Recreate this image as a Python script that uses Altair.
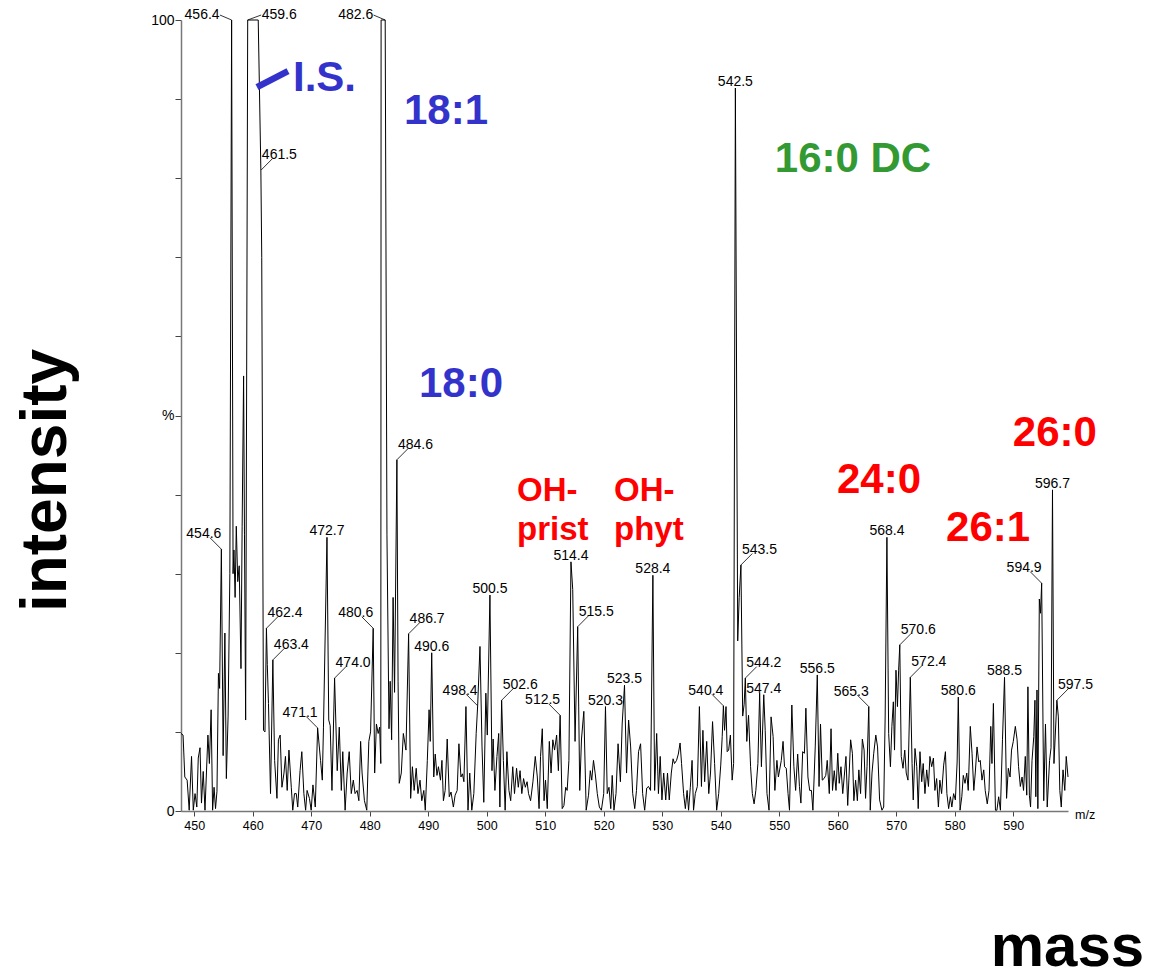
import altair as alt
import pandas as pd

# ---------------- data ----------------
spectrum_a = [
    (447.75, 9.8), (448.1, 9.6), (448.4, 4.3), (448.8, 3.9), (449.15, 0.1), (449.55, 6.9),
    (449.85, 0.1), (450.15, 2.2), (450.45, 0.5), (450.7, 6.7), (451.0, 8.0), (451.25, 1.0),
    (451.55, 5.0), (451.85, 0.1), (452.35, 9.6), (452.6, 6.0), (452.9, 12.8), (453.15, 0.1),
    (453.4, 3.0), (453.65, 0.3), (453.9, 2.5), (454.15, 17.4), (454.35, 15.5), (454.65, 33.1),
    (454.95, 7.0), (455.25, 22.5), (455.5, 4.1), (455.8, 12.0), (456.1, 30.0), (456.4, 100),
    (456.65, 30.0), (456.8, 33.0), (457.0, 27.0), (457.2, 36.0), (457.45, 29.0), (457.7, 31.0),
    (458.0, 18.0), (458.2, 36.0), (458.45, 55.0), (458.6, 35.0), (458.8, 11.5), (459.15, 100),
    (460.95, 100), (461.4, 81.0), (461.55, 70.0), (461.85, 10.2), (462.1, 10.0), (462.35, 23.1),
    (462.5, 18.5), (462.7, 13.6), (463.05, 2.2), (463.45, 19.1), (463.75, 6.4), (464.15, 1.6),
    (464.4, 9.0), (464.7, 9.6), (465.0, 3.0), (465.35, 4.8), (465.6, 6.9), (465.9, 2.6),
    (466.2, 7.7), (466.6, 3.0), (466.85, 0.1), (467.15, 2.2), (467.45, 2.2), (467.7, 0.5),
    (468.1, 5.1), (468.4, 7.5), (468.75, 2.2), (469.05, 0.1), (469.3, 2.6), (469.7, 1.6),
    (470.0, 0.1), (470.3, 3.3), (470.7, 0.5), (471.1, 10.5), (471.6, 6.4), (471.9, 3.9),
    (472.1, 10.6), (472.7, 34.6), (473.0, 11.5), (473.25, 10.8), (473.55, 2.6), (474.0, 16.8),
    (474.45, 5.1), (474.8, 10.6), (475.15, 2.6), (475.4, 7.5), (475.8, 0.1), (476.15, 4.8),
    (476.5, 7.5), (476.85, 2.2), (477.2, 3.9), (477.5, 2.2), (477.85, 2.6), (478.15, 1.3),
    (478.45, 8.8), (478.7, 4.8), (479.1, 1.3), (479.5, 0.1), (479.85, 8.8), (480.15, 10.0),
    (480.6, 23.1), (480.85, 4.8), (481.15, 11.0), (481.45, 9.8), (481.7, 10.6), (481.9, 6.0),
    (481.95, 100), (482.65, 100), (482.95, 35.0), (483.3, 10.4), (483.5, 16.4), (483.75, 9.0),
    (484.0, 27.0), (484.25, 15.0), (484.65, 44.4), (484.85, 16.4), (485.05, 3.5), (485.4, 4.8),
    (485.75, 9.8), (486.2, 7.7), (486.65, 22.4), (487.0, 1.6), (487.3, 5.6), (487.6, 2.6),
    (487.95, 5.4), (488.25, 2.2), (488.6, 3.9), (488.9, 1.3), (489.25, 2.6), (489.5, 0.1),
    (489.85, 6.4), (490.15, 12.8), (490.35, 8.8), (490.6, 20.0), (490.95, 4.3), (491.2, 7.2),
    (491.5, 4.5), (491.75, 5.6), (492.1, 3.9), (492.35, 6.4), (492.6, 1.3), (492.9, 2.6),
    (493.25, 9.1), (493.6, 1.8), (493.9, 2.4), (494.3, 0.5), (494.6, 2.0), (494.95, 2.6),
    (495.25, 8.5), (495.6, 4.3), (495.85, 4.7), (496.1, 3.7), (496.45, 13.2), (496.8, 0.1),
    (497.1, 4.8), (497.45, 0.1), (497.8, 2.2), (498.2, 9.8), (498.45, 13.3), (498.85, 20.8),
    (499.2, 8.1), (499.5, 1.1), (499.85, 14.9), (500.1, 9.6),
]

spectrum_b = [
    (500.55, 27.3), (500.9, 5.1), (501.1, 9.1), (501.4, 2.6), (501.75, 6.9), (502.05, 9.8),
    (502.25, 0.5), (502.55, 14.0), (502.85, 6.4), (503.15, 0.1), (503.45, 7.5), (503.8, 2.6),
    (504.1, 1.3), (504.45, 5.6), (504.75, 2.2), (505.1, 5.4), (505.4, 3.0), (505.7, 5.1),
    (506.0, 2.2), (506.3, 4.1), (506.6, 3.0), (506.9, 3.7), (507.15, 2.2), (507.5, 1.3),
    (507.9, 3.7), (508.3, 6.9), (508.65, 4.3), (508.95, 0.3), (509.2, 6.9), (509.5, 10.4),
    (509.8, 1.3), (510.05, 3.9), (510.35, 0.3), (510.7, 8.8), (511.0, 4.8), (511.3, 9.0),
    (511.6, 7.7), (511.95, 9.6), (512.25, 5.1), (512.55, 12.1), (512.9, 0.3), (513.2, 0.7),
    (513.5, 3.0), (513.75, 2.6), (514.05, 6.4), (514.4, 31.5), (514.7, 28.0), (515.1, 8.8),
    (515.55, 23.3), (515.9, 2.6), (516.2, 9.1), (516.6, 12.6), (517.0, 0.1), (517.4, 2.0),
    (517.7, 5.1), (517.95, 3.9), (518.25, 6.4), (518.55, 4.7), (518.9, 2.2), (519.25, 0.5),
    (519.6, 0.1), (520.0, 2.2), (520.3, 13.2), (520.6, 2.2), (520.9, 3.0), (521.2, 0.3),
    (521.45, 4.5), (521.75, 0.1), (522.1, 2.2), (522.45, 8.5), (522.85, 3.7), (523.15, 11.0),
    (523.55, 15.9), (523.9, 4.8), (524.25, 11.5), (524.6, 8.1), (524.95, 2.2), (525.3, 0.3),
    (525.6, 2.6), (525.95, 7.5), (526.3, 8.5), (526.65, 2.2), (527.0, 0.1), (527.35, 2.9),
    (527.65, 3.1), (528.0, 2.6), (528.4, 29.8), (528.7, 2.6), (529.05, 9.8), (529.35, 2.2),
    (529.65, 6.9), (529.95, 1.4), (530.25, 4.8), (530.6, 1.4), (530.9, 4.8), (531.2, 1.4),
    (531.55, 4.8), (531.85, 6.6), (532.1, 6.0), (532.45, 6.4), (532.75, 7.2), (533.05, 8.6),
    (533.3, 6.0), (533.65, 2.2), (533.95, 0.3), (534.25, 2.6), (534.5, 0.1), (534.8, 3.0),
    (535.1, 6.4), (535.35, 0.1), (535.65, 2.2), (536.0, 3.1), (536.35, 13.2), (536.7, 3.1),
    (536.95, 10.2), (537.25, 3.7), (537.6, 8.8), (537.95, 2.2), (538.25, 4.8), (538.6, 11.3),
    (538.95, 6.0), (539.3, 0.1), (539.65, 2.2), (540.0, 5.8), (540.25, 9.4), (540.45, 13.3),
    (540.65, 10.2), (540.9, 13.2), (541.1, 7.5), (541.35, 7.7), (541.65, 9.6), (541.95, 3.9),
    (542.2, 6.0), (542.5, 91.4), (542.9, 21.5), (543.15, 27.0), (543.45, 31.1), (543.75, 12.0),
    (544.0, 13.5), (544.2, 16.8), (544.45, 8.8), (544.75, 12.1), (545.1, 5.6), (545.4, 2.2),
    (545.7, 0.9), (546.0, 2.6), (546.35, 6.0), (546.65, 14.9), (546.95, 5.6), (547.35, 14.7),
    (547.6, 10.2), (547.9, 2.2), (548.25, 0.1), (548.6, 11.9), (548.95, 9.4), (549.25, 2.6),
    (549.6, 6.4), (549.85, 4.3),
]

spectrum_c = [
    (550.35, 6.4), (550.65, 8.8), (550.9, 5.6), (551.2, 5.4), (551.5, 2.2), (551.75, 0.1),
    (552.15, 13.4), (552.5, 5.6), (552.8, 2.6), (553.15, 7.2), (553.45, 3.1), (553.7, 1.0),
    (554.0, 7.5), (554.3, 7.3), (554.55, 13.0), (554.9, 4.3), (555.2, 2.6), (555.5, 2.6),
    (555.75, 0.1), (556.15, 8.1), (556.5, 17.2), (556.8, 3.1), (557.05, 11.0), (557.35, 3.9),
    (557.65, 4.1), (557.95, 4.5), (558.2, 6.4), (558.55, 2.2), (558.85, 10.4), (559.1, 2.6),
    (559.4, 5.1), (559.7, 2.6), (560.0, 7.3), (560.25, 3.5), (560.55, 5.6), (560.85, 2.2),
    (561.1, 4.3), (561.4, 6.9), (561.7, 0.7), (561.95, 4.8), (562.2, 9.0), (562.5, 7.3),
    (562.75, 1.3), (563.05, 3.9), (563.35, 1.3), (563.6, 5.2), (563.9, 2.2), (564.2, 9.1),
    (564.5, 7.7), (564.75, 1.6), (565.0, 5.6), (565.3, 13.2), (565.55, 0.1), (565.85, 4.8),
    (566.15, 7.3), (566.5, 9.6), (566.8, 8.1), (567.15, 1.4), (567.55, 0.1), (567.85, 0.5),
    (568.1, 12.0), (568.4, 34.6), (568.7, 9.8), (569.0, 5.6), (569.25, 10.7), (569.5, 13.8),
    (569.7, 7.7), (569.95, 17.8), (570.2, 13.2), (570.4, 17.8), (570.6, 21.0), (570.85, 6.9),
    (571.15, 5.4), (571.45, 7.7), (571.7, 4.8), (572.0, 3.9), (572.4, 16.9), (572.7, 6.0),
    (572.9, 1.4), (573.2, 7.9), (573.5, 5.6), (573.75, 0.3), (574.05, 7.5), (574.35, 3.7),
    (574.6, 6.0), (574.9, 2.2), (575.2, 5.2), (575.5, 3.1), (575.75, 6.9), (576.05, 5.6),
    (576.35, 6.7), (576.6, 2.6), (576.9, 4.1), (577.2, 0.5), (577.45, 3.9), (577.75, 2.2),
    (578.1, 5.8), (578.4, 7.5), (578.65, 2.2), (578.95, 0.3), (579.25, 1.8), (579.5, 0.5),
    (579.8, 2.2), (580.1, 1.4), (580.4, 6.2), (580.6, 14.4), (580.9, 0.1), (581.2, 1.8),
    (581.45, 4.5), (581.75, 3.5), (582.05, 4.8), (582.3, 2.6), (582.65, 10.7), (582.95, 7.3),
    (583.25, 2.6), (583.5, 4.8), (583.8, 8.1), (584.1, 6.2), (584.35, 6.4), (584.65, 3.9),
    (584.95, 5.2), (585.2, 2.6), (585.55, 0.9), (585.85, 2.6), (586.15, 10.7), (586.35, 6.0),
    (586.6, 13.6), (586.95, 0.1), (587.2, 0.1), (587.5, 1.8), (587.8, 0.1), (588.15, 9.0),
    (588.5, 16.9), (588.85, 1.6), (589.15, 5.4), (589.45, 4.3), (589.7, 7.7), (590.0, 8.8),
    (590.35, 10.7), (590.65, 9.0), (590.9, 5.6), (591.2, 3.1), (591.5, 4.3), (591.75, 2.6),
    (592.05, 6.9), (592.3, 2.0), (592.5, 15.7), (592.75, 2.0), (592.95, 0.5), (593.2, 6.4),
    (593.5, 9.4), (593.7, 14.0), (593.85, 1.8), (594.05, 15.3), (594.2, 0.3), (594.45, 26.8),
    (594.65, 25.0), (594.85, 28.8), (595.2, 1.3), (595.5, 11.0), (595.8, 0.5), (596.2, 6.4),
    (596.45, 8.0), (596.7, 40.6), (596.95, 6.0), (597.45, 14.0), (597.7, 11.9), (597.95, 2.6),
    (598.2, 0.5), (598.5, 5.2), (598.8, 2.6), (599.05, 6.9), (599.35, 4.3),
]

# labelled peaks: text, apex m/z, apex intensity, where the label sits
label_text = ["454.6", "456.4", "459.6", "461.5", "462.4", "463.4", "471.1", "472.7", "474.0",
              "480.6", "482.6", "484.6", "486.7", "490.6", "498.4", "500.5", "502.6", "512.5",
              "514.4", "515.5", "520.3", "523.5", "528.4", "540.4", "542.5", "543.5", "544.2",
              "547.4", "556.5", "565.3", "568.4", "570.6", "572.4", "580.6", "588.5", "594.9",
              "596.7", "597.5"]
label_mz = [454.65, 456.4, 459.15, 461.4, 462.35, 463.45, 471.1, 472.7, 474.0,
            480.6, 482.65, 484.65, 486.65, 490.6, 498.45, 500.55, 502.55, 512.55,
            514.4, 515.55, 520.3, 523.55, 528.4, 540.45, 542.5, 543.45, 544.2,
            547.35, 556.5, 565.3, 568.4, 570.6, 572.4, 580.6, 588.5, 594.85,
            596.7, 597.45]
label_int = [33.1, 100, 100, 81.0, 23.1, 19.1, 10.5, 34.6, 16.8,
             23.1, 100, 44.4, 22.4, 20.0, 13.3, 27.3, 14.0, 12.1,
             31.5, 23.3, 13.2, 15.9, 29.8, 13.3, 91.4, 31.1, 16.8,
             14.7, 17.2, 13.2, 34.6, 21.0, 16.9, 14.4, 16.9, 28.8,
             40.6, 14.0]
label_side = ["L", "LT", "RT", "R", "R", "R", "L", "C", "R",
              "L", "LT", "R", "R", "C", "L", "C", "R", "L",
              "C", "R", "C", "C", "C", "L", "C", "R", "R",
              "C", "C", "L", "C", "R", "R", "C", "C", "L",
              "C", "R"]

# compound annotations
big_text = ["I.S.", "18:1", "18:0", "16:0 DC", "24:0", "26:1", "26:0"]
big_mz = [466.89, 493.04, 495.6, 562.6, 567.05, 585.7, 597.1]
big_int = [91.0, 86.85, 52.4, 80.8, 40.2, 34.1, 46.1]
big_group = ["blue", "blue", "blue", "green", "red", "red", "red"]
big_align = ["left", "center", "center", "center", "center", "center", "center"]

oh_text = ["OH-\nprist", "OH-\nphyt"]
oh_mz = [505.18, 521.76]
oh_int = [39.2, 39.2]

is_bar_mz = [460.74, 466.04]
is_bar_int = [91.5, 93.55]

x_ticks = [450 + 2.5 * i for i in range(60)]
y_ticks = list(range(0, 101, 10))

# ---------------- chart ----------------
FONT = "Liberation Sans"
BLUE, GREEN, RED = "#3333CC", "#339933", "#FF0000"

xs = alt.Scale(domain=[447.75, 599.35], nice=False, zero=False)
ys = alt.Scale(domain=[0, 100], nice=False, zero=False)


def X(field="mz"):
    return alt.X(f"{field}:Q", scale=xs)


def Y(field="intensity"):
    return alt.Y(f"{field}:Q", scale=ys)


spec = pd.DataFrame(spectrum_a + spectrum_b + spectrum_c, columns=["mz", "intensity"])
spec["order"] = range(len(spec))

line = alt.Chart(spec).mark_line(color="#000000", strokeWidth=1).encode(
    x=alt.X("mz:Q", scale=xs, axis=alt.Axis(
        values=x_ticks,
        labelExpr="datum.value % 10 == 0 ? format(datum.value, 'd') : ''",
        tickSize=5, tickColor="#444", tickWidth=1,
        domainColor="#777", domainWidth=1.5,
        labelFont=FONT, labelFontSize=12.5, labelColor="#000", labelPadding=3,
        labelOverlap=False, labelFlush=False, grid=False,
        title="mass", titleFont=FONT, titleFontSize=60, titleFontWeight="bold",
        titleColor="#000", titleX=886, titleY=154, titleAlign="center",
        titleBaseline="alphabetic")),
    y=alt.Y("intensity:Q", scale=ys, axis=alt.Axis(
        values=y_ticks,
        labelExpr="datum.value == 100 ? '100' : (datum.value == 50 ? '%' : (datum.value == 0 ? '0' : ''))",
        tickSize=6, tickColor="#444", tickWidth=1,
        domainColor="#777", domainWidth=1.5,
        labelFont=FONT, labelFontSize=14, labelColor="#000", labelPadding=1,
        labelOverlap=False, labelFlush=False, grid=False,
        title="intensity", titleFont=FONT, titleFontSize=64, titleFontWeight="bold",
        titleColor="#000", titleAngle=270, titleX=-116, titleY=460,
        titleAlign="center", titleBaseline="alphabetic")),
    order="order:Q",
)

lab = pd.DataFrame({"text": label_text, "mz": label_mz, "intensity": label_int, "side": label_side})
lead_dx = {"L": -1.95, "R": 1.95, "LT": -2.0, "RT": 2.3, "C": 0.0}
lead_dy = {"L": 1.45, "R": 1.45, "LT": 0.63, "RT": 0.63, "C": 0.0}
lab["mz2"] = lab["mz"] + lab["side"].map(lead_dx)
lab["int2"] = lab["intensity"] + lab["side"].map(lead_dy)

leaders = alt.Chart(lab[lab["side"] != "C"]).mark_rule(color="#000", strokeWidth=0.8).encode(
    x=X(), y=Y(), x2="mz2:Q", y2="int2:Q",
)


def label_layer(side, align, dx, dy):
    return alt.Chart(lab[lab["side"] == side]).mark_text(
        font=FONT, fontSize=14, color="#000", align=align, baseline="alphabetic",
        dx=dx, dy=dy).encode(x=X(), y=Y(), text="text:N")


lab_L = label_layer("L", "right", 0, -11)
lab_R = label_layer("R", "left", 1, -11)
lab_C = label_layer("C", "center", 0, -2)
lab_LT = label_layer("LT", "right", -12, -1)
lab_RT = label_layer("RT", "left", 14, -1)

color_scale = alt.Scale(domain=["blue", "green", "red"], range=[BLUE, GREEN, RED])
big = pd.DataFrame({"text": big_text, "mz": big_mz, "intensity": big_int,
                    "group": big_group, "align": big_align})


def big_layer(align):
    return alt.Chart(big[big["align"] == align]).mark_text(
        font=FONT, fontSize=42, fontWeight="bold", align=align, baseline="alphabetic").encode(
        x=X(), y=Y(), text="text:N",
        color=alt.Color("group:N", scale=color_scale, legend=None))


big_left = big_layer("left")
big_center = big_layer("center")

oh = pd.DataFrame({"text": oh_text, "mz": oh_mz, "intensity": oh_int})
oh_layer = alt.Chart(oh).mark_text(
    font=FONT, fontSize=33, fontWeight="bold", align="left", baseline="alphabetic",
    color=RED, lineBreak="\n", lineHeight=39).encode(x=X(), y=Y(), text="text:N")

bar = pd.DataFrame({"mz": [is_bar_mz[0]], "intensity": [is_bar_int[0]],
                    "mz2": [is_bar_mz[1]], "int2": [is_bar_int[1]]})
is_bar = alt.Chart(bar).mark_rule(color=BLUE, strokeWidth=6.5, strokeCap="butt").encode(
    x=X(), y=Y(), x2="mz2:Q", y2="int2:Q")

mz_unit = pd.DataFrame({"text": ["m/z"], "mz": [600.55], "intensity": [0]})
mz_label = alt.Chart(mz_unit).mark_text(
    font=FONT, fontSize=12.5, color="#000", align="left", baseline="middle", dy=4).encode(
    x=X(), y=Y(), text="text:N")

chart = alt.layer(
    line, leaders, lab_L, lab_R, lab_C, lab_LT, lab_RT,
    big_left, big_center, oh_layer, is_bar, mz_label,
).properties(
    width=887, height=791,
    autosize=alt.AutoSizeParams(type="none"),
    padding={"left": 181, "top": 20, "right": 83, "bottom": 168},
    background="white",
).configure_view(stroke=None)

chart.save("out.html", embed_options={"renderer": "svg", "actions": False})
